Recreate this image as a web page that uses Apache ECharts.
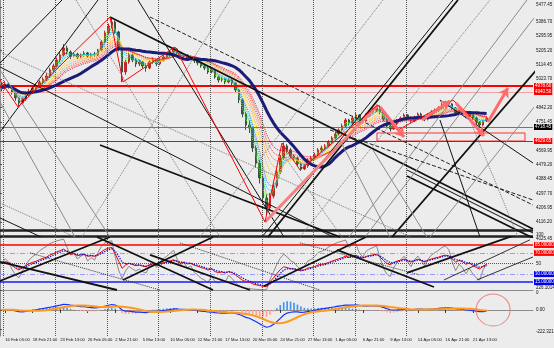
<!DOCTYPE html>
<html><head><meta charset="utf-8">
<script src="https://cdn.jsdelivr.net/npm/echarts@6/dist/echarts.min.js"></script>
<style>html,body{margin:0;padding:0;background:#ececec}#c{width:554px;height:348px}</style>
</head><body><div id="c"></div>
<script>
// ---------- data ----------
const tickLabels = ['16 Feb 05:00','18 Feb 21:00','23 Feb 13:00','26 Feb 05:00','2 Mar 21:00','5 Mar 13:00','10 Mar 05:00','12 Mar 21:00','17 Mar 13:00','20 Mar 05:00','24 Mar 21:00','27 Mar 13:00','1 Apr 05:00','6 Apr 21:00','9 Apr 13:00','14 Apr 05:00','16 Apr 21:00','21 Apr 13:00'];
const tickStart = 1, tickStep = 8, slotCount = 155;
// [open, close, low, high]
const ohlc = [
[4980,4966,4945,4998],[4966,4992,4955,5010],[4992,4979,4962,5000],[4979,4941,4925,4985],[4941,4903,4885,4950],
[4903,4871,4846,4910],[4871,4896,4860,4905],[4896,4922,4885,4930],[4922,4947,4910,4960],[4947,4966,4935,4975],
[4966,4979,4950,4995],[4979,5004,4965,5015],[5004,5023,4990,5035],[5023,5042,5010,5060],[5042,5081,5030,5095],
[5081,5106,5065,5120],[5106,5144,5095,5160],[5144,5176,5130,5195],[5176,5220,5165,5245],[5220,5195,5180,5235],
[5195,5169,5150,5205],[5169,5182,5160,5195],[5182,5163,5150,5190],[5163,5176,5155,5185],[5176,5189,5165,5200],
[5189,5169,5160,5195],[5169,5182,5160,5190],[5182,5176,5165,5195],[5176,5208,5170,5215],[5208,5258,5200,5270],
[5258,5316,5250,5330],[5316,5360,5305,5375],[5360,5385,5345,5415],[5385,5322,5310,5395],[5322,5220,5200,5330],
[5220,5068,5004,5230],[5068,5131,5050,5145],[5131,5176,5120,5190],[5176,5144,5130,5185],[5144,5119,5100,5155],
[5119,5131,5105,5145],[5131,5106,5090,5140],[5106,5093,5070,5115],[5093,5131,5085,5140],[5131,5144,5120,5160],
[5144,5119,5105,5150],[5119,5144,5110,5155],[5144,5163,5135,5175],[5163,5176,5155,5185],[5176,5195,5165,5205],
[5195,5214,5185,5225],[5214,5189,5180,5220],[5189,5169,5160,5195],[5169,5176,5160,5185],[5176,5157,5145,5180],
[5157,5163,5150,5170],[5163,5138,5125,5170],[5138,5125,5110,5145],[5125,5106,5095,5130],[5106,5093,5080,5115],
[5093,5068,5055,5100],[5068,5081,5060,5090],[5081,5036,5025,5085],[5036,5017,5000,5045],[5017,5023,5005,5035],
[5023,5004,4990,5030],[5004,5017,4995,5025],[5017,4998,4985,5025],[4998,4954,4940,5005],[4954,4890,4870,4960],
[4890,4801,4780,4900],[4801,4731,4700,4815],[4731,4712,4680,4760],[4712,4585,4560,4720],[4585,4490,4460,4600],
[4490,4395,4360,4510],[4395,4268,4240,4410],[4268,4204,4160,4290],[4204,4280,4190,4300],[4280,4344,4265,4360],
[4344,4433,4330,4450],[4433,4522,4420,4540],[4522,4598,4510,4620],[4598,4573,4555,4610],[4573,4534,4520,4585],
[4534,4522,4505,4545],[4522,4484,4470,4530],[4484,4452,4440,4495],[4452,4471,4445,4485],[4471,4509,4460,4520],
[4509,4522,4500,4535],[4522,4541,4510,4555],[4541,4573,4535,4585],[4573,4585,4560,4600],[4585,4598,4575,4610],
[4598,4623,4590,4635],[4623,4649,4615,4660],[4649,4674,4640,4690],[4674,4700,4665,4710],[4700,4725,4690,4740],
[4725,4763,4715,4775],[4763,4744,4730,4770],[4744,4776,4735,4790],[4776,4795,4765,4810],[4795,4769,4755,4800],
[4769,4757,4740,4780],[4757,4795,4750,4805],[4795,4814,4785,4825],[4814,4827,4805,4840],[4827,4846,4815,4860],
[4846,4814,4800,4855],[4814,4769,4755,4820],[4769,4725,4710,4775],[4725,4706,4690,4735],[4706,4738,4700,4745],
[4738,4763,4730,4770],[4763,4776,4755,4785],[4776,4795,4765,4805],[4795,4776,4765,4800],[4776,4757,4745,4785],
[4757,4782,4750,4790],[4782,4801,4775,4810],[4801,4788,4775,4810],[4788,4769,4755,4795],[4769,4795,4760,4805],
[4795,4814,4785,4825],[4814,4827,4805,4835],[4827,4839,4815,4850],[4839,4858,4830,4870],[4858,4871,4845,4885],
[4871,4865,4850,4880],[4865,4839,4825,4870],[4839,4808,4795,4845],[4808,4827,4800,4835],[4827,4814,4800,4830],
[4814,4788,4775,4820],[4788,4801,4780,4810],[4801,4776,4765,4805],[4776,4750,4735,4785],[4750,4731,4715,4755],
[4731,4757,4725,4765],[4757,4776,4750,4785]
];
const priceTicks = [5477.45,5386.70,5295.95,5205.20,5114.45,5023.70,4842.20,4751.45,4569.95,4479.20,4388.45,4297.70,4206.95,4116.20,4025.45];
const priceLevels = [4978.60, 4940.50, 4718.45, 4661.20, 4629.65, 4061.00, 4023.00];
const rsiLevels = [85, 70, 50, 30, 15];
const rsiTicks = [100, 50, 0];
const macdTicks = [226.1014, 0, -222.3215];
const weekStarts = [0.87, 16.0, 31.1, 45.9, 61.1, 76.2, 91.0, 103.2, 118.1];
const boxRect = [109.62, 4680.5, 152.66, 4629.6];
// zigzag turning points [slot, price]
const zigzag = [[0,5017],[5.23,4845.6],[31.99,5417.1],[35.77,5004.3],[50.89,5226.6],[77.06,4115.3],[82,4617],[87.24,4445.5],[109.92,4858.3],[115.73,4699.5],[131.72,4890],[139.58,4731.3]];
const waveLine = [[77.06,4115.3],[109.92,4858.3]];
const arrows = [[110.5,4845.6,117.48,4655.1],[122.71,4763,130.85,4883.7],[132.6,4871,140.74,4661.4],[141.9,4750.3,147.72,4966]];
// trend lines on price pane [slot1, price1, slot2, price2]
const tlBlackThick = [[77.93,4020,133.18,5525],[113.99,4020,173.6,5525],[31.99,5417,155,4071],[118.35,4407,155,4014],[29.08,4604,98.87,4020]];
const tlBlack = [[0,5125,18.03,5525],[0,4687,28.5,5525],[76.19,4020,131.72,5525],[0,5100,96.83,4020],[118.35,4445.5,155,4045.5],[127.94,4890,155,4490],[0,4141,11.92,4020],[40.13,5525,82.58,4020],[127.94,4763,139.58,4020]];
const tlGray = [[101.48,4020,153.24,5525],[106.14,4020,159.35,5525],[125.04,4020,180.3,5525],[0,4877,21.81,4020],[0,5080.5,31.99,4020],[108.46,4572.5,124.16,4020],[98.87,4636,113.4,4020]];
const tlGrayDotted = [[23.84,4020,66.88,5525],[58.16,4020,111.37,5525],[87.24,4020,142.48,5525],[0,5195,119.51,4020],[0,4236,21.81,4020],[22.1,5525,63.97,4020],[82,4553.5,99.45,4020],[136.67,4763,150.63,4020]];
const tlBlackDotted = [[43.62,5417,155,4223],[95.96,4699.5,155,4255]];
// trend lines on oscillator pane [slot1, value1, slot2, value2]
const rsiLinesThick = [[0,17,31.99,100],[0,53,34.02,0],[28.2,100,61.94,0],[35.77,18.9,61.94,100],[76.77,7.6,106.43,100],[97.99,75.7,126.2,5.7],[118.35,32.2,154.11,113.5],[43.62,66.2,72.7,0]];
const rsiLinesThin = [[138.7,18.9,155,62.4],[129.1,18.9,154.1,94.6]];
const rsiLinesDotted = [[8.72,70,46.5,0],[52.3,88.9,93,0],[87.2,88.9,122.1,28.4]];
const ribbonPeriods = [2,3,4,5,6,8,10,12,14,16];
const ribbonColors = ['#66ff00','#00cc33','#00ccff','#3377ff','#ffee00','#ffbb00','#ff9900','#ff6633','#ff3333','#ee1144'];
const slowPeriod = 20;

// ---------- indicators from the closes ----------
const closes = ohlc.map(d => d[1]);
function ema(a, n){ const k = 2/(n+1); let e = a[0]; return a.map((v,i) => i===0 ? e : (e = e + k*(v-e))); }
function sma(a, n){ return a.map((v,i) => { const s = Math.max(0,i-n+1); let t = 0; for (let j=s;j<=i;j++) t += a[j]; return t/(i-s+1); }); }
function rsi(a, n){
  let seed = 0; for (let i=1;i<=n && i<a.length;i++) seed += Math.abs(a[i]-a[i-1]); seed = seed/n/2;
  let ag = seed, al = seed; const out = [50];
  for (let i=1;i<a.length;i++){ const d=a[i]-a[i-1]; ag=(ag*(n-1)+Math.max(d,0))/n; al=(al*(n-1)+Math.max(-d,0))/n; out.push(al===0?100:100-100/(1+ag/al)); }
  return out;
}
const rsiMain = rsi(closes, 14);
const rsiSig = ema(rsiMain, 3);
const rsiFast = rsi(closes, 5);
const e6 = ema(closes, 6), e13 = ema(closes, 13);
const macd = closes.map((v,i) => e6[i]-e13[i]);
const macdSig = sma(macd, 9);
const hist = macd.map((v,i) => { const d = v - macdSig[i]; return {value: d, itemStyle: {color: d >= 0 ? '#3d8ff5' : '#ffa08a'}}; });

const cats = Array.from({length: slotCount}, () => '');
tickLabels.forEach((t,k) => { cats[tickStart + k*tickStep] = t; });

const FONT = 'Liberation Sans';
function segSeries(list, xi, yi, color, width, type, z){
  return {type:'lines', coordinateSystem:'cartesian2d', xAxisIndex:xi, yAxisIndex:yi, silent:true, z:z||6, clip:true,
    lineStyle:{color:color, width:width, type:type, opacity:1},
    data: list.map(s => ({coords:[[s[0],s[1]],[s[2],s[3]]]}))};
}
function weekMarks(){ return {silent:true, symbol:['none','none'], label:{show:false},
  lineStyle:{color:'#555', width:1, type:'dotted'}, data: weekStarts.map(u => ({xAxis:u}))}; }

const priceStyles = [
  {c:'#ff0000', w:2, bg:'#ff0000'},
  {c:'#f3a3a3', w:1, bg:'#ff0000'},
  {c:'#4a78d0', w:1, bg:'#000000'},
  {c:'#ff0000', w:0, bg:'#ff0000', o:0},
  {c:'#ff0000', w:1, bg:'#ff0000'},
  {c:'#222222', w:2.5, bg:null},
  {c:'#222222', w:2.5, bg:null}
];
const rsiStyles = [
  {c:'#ff0000', w:1.5, t:'solid', bg:'#ff0000'},
  {c:'#ff8080', w:1, t:[5,2,1,2], bg:'#ff0000'},
  {c:'#555555', w:1, t:'dotted', bg:null},
  {c:'#9a9aff', w:1, t:[5,2,1,2], bg:'#0000ee'},
  {c:'#1a1aff', w:1.5, t:'solid', bg:'#0000ee'}
];
function lvlLabel(bg, txt){
  if (!bg) return {show:false};
  return {show:true, position:'end', distance:1, formatter: txt, fontSize:4.5, fontFamily:FONT,
    color:'#fff', backgroundColor:bg, padding:[1,1,0,1]};
}

const series = [];
// price pane
series.push({type:'candlestick', xAxisIndex:0, yAxisIndex:0, data: ohlc, barWidth:2, z:3,
  itemStyle:{color:'#c0282d', color0:'#3b5249', borderColor:'#c0282d', borderColor0:'#3b5249', borderWidth:1}});
ribbonPeriods.forEach((p,k) => {
  series.push({type:'line', xAxisIndex:0, yAxisIndex:0, data: ema(closes,p), showSymbol:false, silent:true, z:4,
    lineStyle:{color:ribbonColors[k], width:1, type:'dotted'}});
});
series.push({type:'line', xAxisIndex:0, yAxisIndex:0, data: sma(closes, slowPeriod), showSymbol:false, silent:true, z:5,
  lineStyle:{color:'#1c1c78', width:3}});
series.push(segSeries(tlBlackThick,1,0,'#111',1.8,'solid'));
series.push(segSeries(tlBlack,1,0,'#111',1,'solid'));
series.push(segSeries(tlGray,1,0,'#8a8a8a',1,'solid'));
series.push(segSeries(tlGrayDotted,1,0,'#777',1,'dotted'));
series.push(segSeries(tlBlackDotted,1,0,'#222',1,'dashed'));
series.push({type:'line', xAxisIndex:1, yAxisIndex:0, data: waveLine, showSymbol:false, silent:true, z:7,
  lineStyle:{color:'#f58080', width:3}});
series.push({type:'line', xAxisIndex:1, yAxisIndex:0, data: zigzag, showSymbol:false, silent:true, z:7,
  lineStyle:{color:'#ff0000', width:1},
  markLine:{silent:true, symbol:['none','none'], precision:2,
    data: priceLevels.map((p,k) => ({yAxis:p, lineStyle:{color:priceStyles[k].c, width:priceStyles[k].w, type:'solid', opacity: priceStyles[k].o===0?0:1},
      label: lvlLabel(priceStyles[k].bg, p.toFixed(2))}))},
  markArea:{silent:true, itemStyle:{color:'rgba(0,0,0,0)', borderColor:'#ff3030', borderWidth:1},
    data:[[{coord:[boxRect[0],boxRect[1]]},{coord:[boxRect[2],boxRect[3]]}]]}
});
series.push({type:'line', xAxisIndex:1, yAxisIndex:0, data: [[0,4020],[0,4020]], showSymbol:false, silent:true,
  lineStyle:{opacity:0}, markLine: weekMarks()});
series.push(Object.assign(segSeries(arrows,1,0,'#ff6b6b',3,'solid',8), {symbol:['none','arrow'], symbolSize:9}));
// oscillator pane
series.push({type:'line', xAxisIndex:2, yAxisIndex:1, data: rsiFast, showSymbol:false, silent:true, z:4,
  lineStyle:{color:'#6f6f6f', width:0.8}});
series.push({type:'line', xAxisIndex:2, yAxisIndex:1, data: rsiMain, showSymbol:false, silent:true, z:5,
  lineStyle:{color:'#ee0000', width:1}});
series.push({type:'line', xAxisIndex:2, yAxisIndex:1, data: rsiSig, showSymbol:false, silent:true, z:5,
  lineStyle:{color:'#1010d0', width:1.3, type:'dotted'}});
series.push(segSeries(rsiLinesThick,3,1,'#111',1.8,'solid'));
series.push(segSeries(rsiLinesThin,3,1,'#333',1,'solid'));
series.push(segSeries(rsiLinesDotted,3,1,'#333',1,'dotted'));
series.push({type:'line', xAxisIndex:3, yAxisIndex:1, data: [[0,0],[0,0]], showSymbol:false, silent:true,
  lineStyle:{opacity:0},
  markLine:{silent:true, symbol:['none','none'],
    data: rsiLevels.map((v,k) => ({yAxis:v, lineStyle:{color:rsiStyles[k].c, width:rsiStyles[k].w, type:rsiStyles[k].t},
      label: lvlLabel(rsiStyles[k].bg, v.toFixed(5))})).concat(weekStarts.map(u => ({xAxis:u, label:{show:false}, lineStyle:{color:'#555', width:1, type:'dotted'}})))}
});
// MACD pane
series.push({type:'bar', xAxisIndex:4, yAxisIndex:2, data: hist, barWidth:1.6, silent:true, z:3});
series.push({type:'line', xAxisIndex:4, yAxisIndex:2, data: macd, showSymbol:false, silent:true, z:4,
  lineStyle:{color:'#1030ff', width:1.2}});
series.push({type:'line', xAxisIndex:4, yAxisIndex:2, data: macdSig, showSymbol:false, silent:true, z:5,
  lineStyle:{color:'#ff9a1a', width:2}});
series.push({type:'scatter', xAxisIndex:5, yAxisIndex:2, data: [[143.4, 0]], symbol:'circle', symbolSize:[34,32], silent:true, z:6,
  itemStyle:{color:'rgba(0,0,0,0)', borderColor:'#f06a6a', borderWidth:1}, markLine: weekMarks()});

const gridBase = {left:0, right:21, containLabel:false, outerBoundsMode:'none', show:false};
function catAxis(gi, showLabel){
  return {type:'category', gridIndex:gi, data:cats, boundaryGap:true,
    axisLine:{show: gi>0, lineStyle:{color:'#8c8c8c', width:1}},
    axisTick:{show: showLabel, interval:(i,v) => v !== '', alignWithLabel:true, length:3, lineStyle:{color:'#333'}},
    axisLabel:{show: showLabel, interval:(i,v) => v !== '', align:'left', fontSize:4.2, fontFamily:FONT, color:'#111', margin:2},
    splitLine:{show:false}};
}
function valX(gi){ return {type:'value', gridIndex:gi, min:0, max:slotCount, show:false}; }
function yAx(gi, min, max, ticks, fmt){
  return {type:'value', gridIndex:gi, position:'right', min:min, max:max, scale:true,
    axisLine:{show:true, lineStyle:{color:'#8c8c8c'}},
    axisTick:{show:true, customValues:ticks, length:2, lineStyle:{color:'#555'}},
    axisLabel:{customValues:ticks, formatter:fmt, fontSize:4.5, fontFamily:FONT, color:'#111', margin:3,
      verticalAlignMaxLabel:'top', verticalAlignMinLabel:'bottom'},
    splitLine:{show:false}};
}

const option = {
  backgroundColor:'#ececec',
  animation:false,
  grid:[Object.assign({top:0, height:237}, gridBase), Object.assign({top:237, height:53}, gridBase), Object.assign({top:290, height:46}, gridBase)],
  xAxis:[catAxis(0,false), valX(0), catAxis(1,false), valX(1), catAxis(2,true), valX(2)],
  yAxis:[
    yAx(0, 4020, 5525, priceTicks, v => v.toFixed(2)),
    yAx(1, 0, 100, rsiTicks, v => String(v)),
    yAx(2, -300, 230, macdTicks, v => v === 0 ? '0.00' : v.toFixed(4))
  ],
  series: series
};
const chart = echarts.init(document.getElementById('c'), null, {renderer:'canvas'});
chart.setOption(option);
</script></body></html>
